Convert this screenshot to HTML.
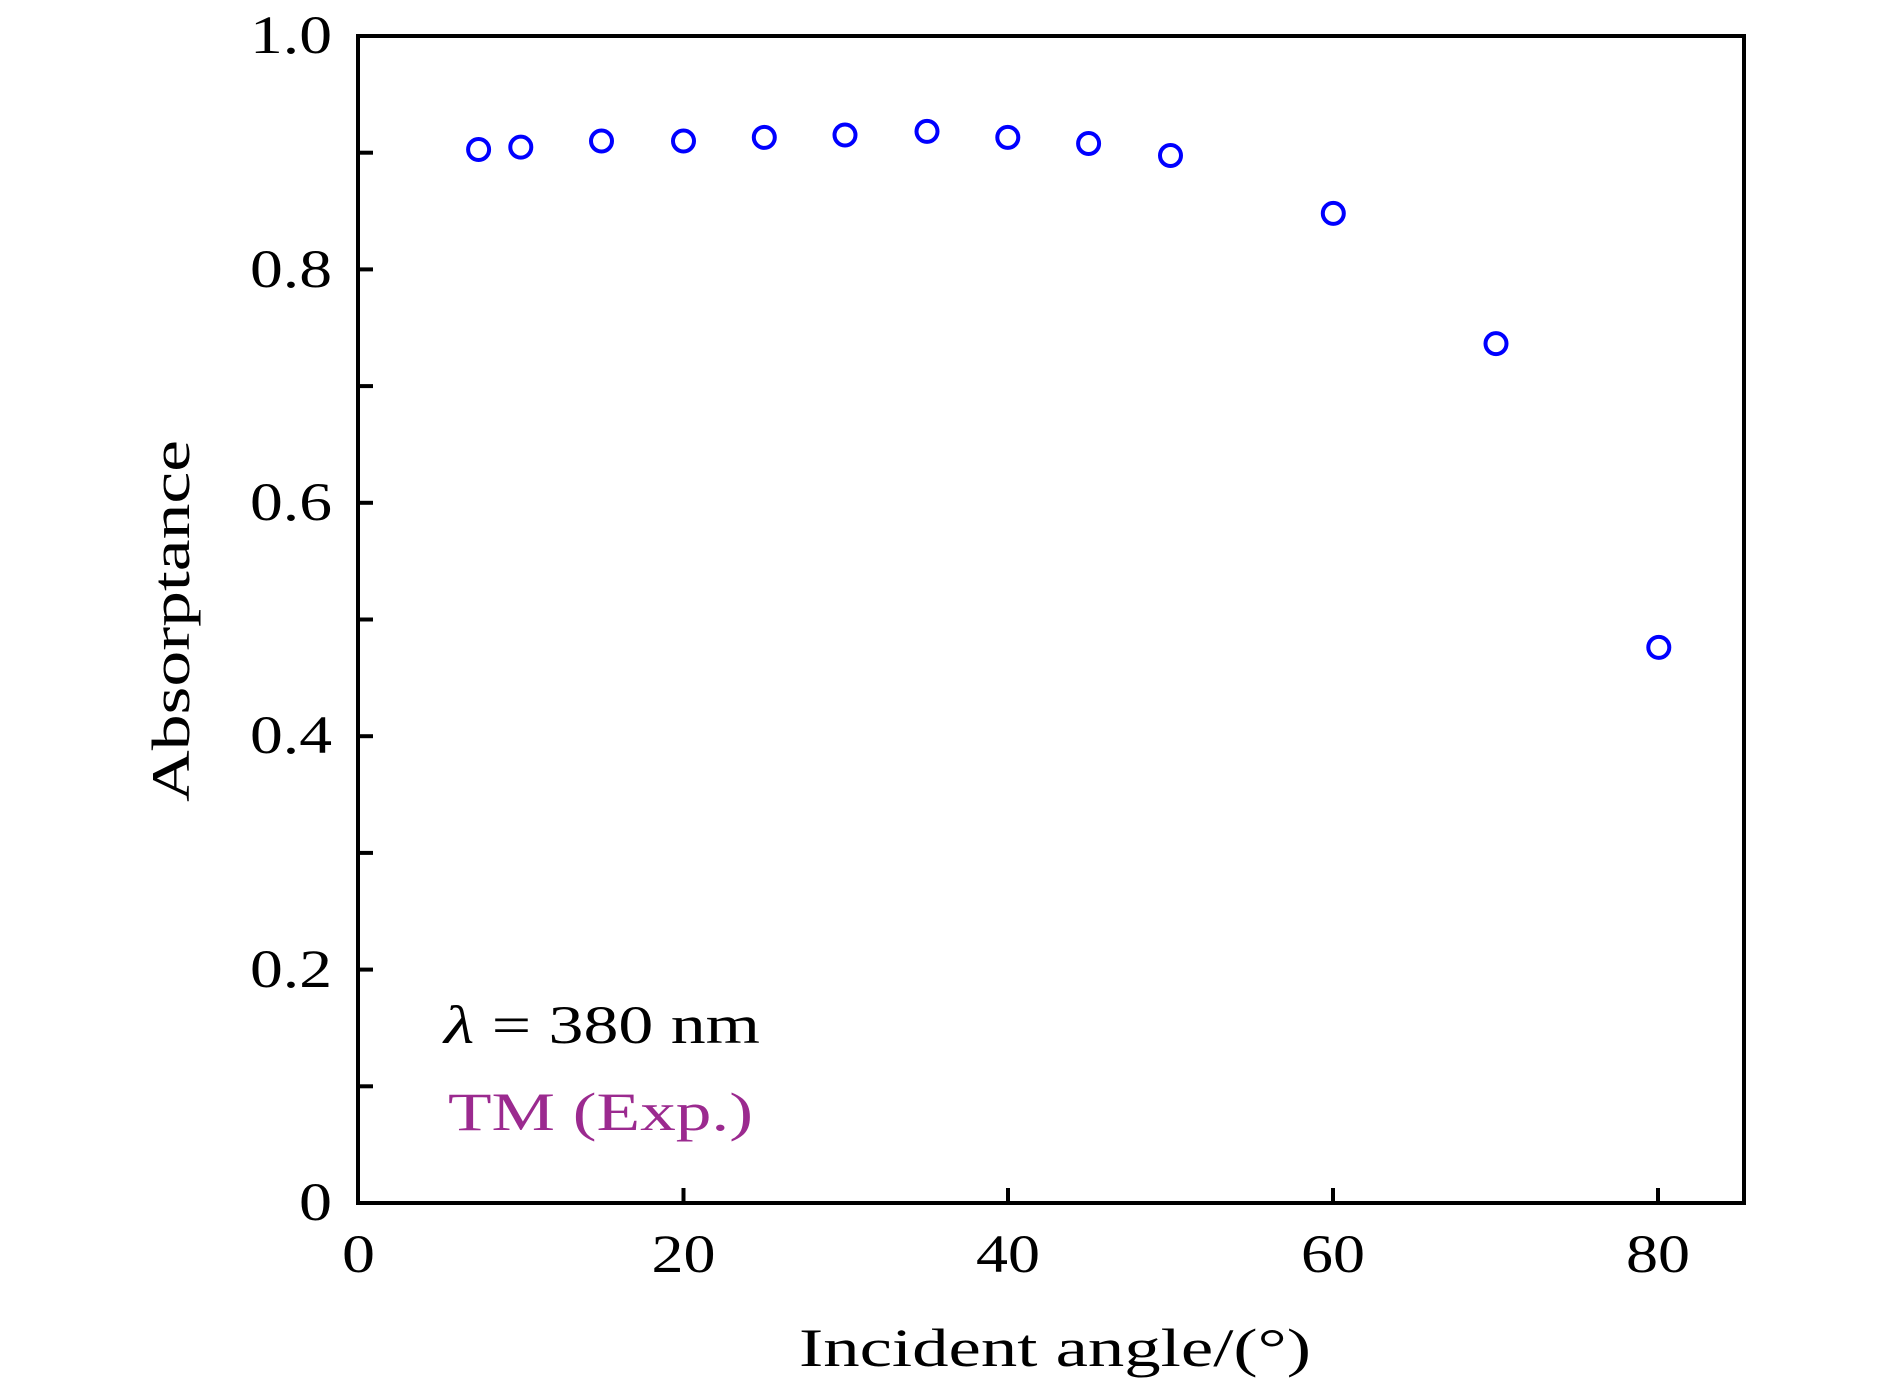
<!DOCTYPE html>
<html><head><style>html,body{margin:0;padding:0;background:#fff}svg{display:block}</style></head><body>
<svg width="1890" height="1394" viewBox="0 0 1890 1394" xmlns="http://www.w3.org/2000/svg" font-family="'Liberation Serif', serif">
<rect width="1890" height="1394" fill="#fff"/>
<g stroke="#000" stroke-width="4">
<rect x="358" y="36" width="1386" height="1167" fill="none"/>
<line x1="358" y1="1086.3" x2="373" y2="1086.3"/>
<line x1="358" y1="969.6" x2="373" y2="969.6"/>
<line x1="358" y1="852.9" x2="373" y2="852.9"/>
<line x1="358" y1="736.2" x2="373" y2="736.2"/>
<line x1="358" y1="619.5" x2="373" y2="619.5"/>
<line x1="358" y1="502.8" x2="373" y2="502.8"/>
<line x1="358" y1="386.1" x2="373" y2="386.1"/>
<line x1="358" y1="269.4" x2="373" y2="269.4"/>
<line x1="358" y1="152.7" x2="373" y2="152.7"/>
<line x1="683.5" y1="1203" x2="683.5" y2="1188"/>
<line x1="1008" y1="1203" x2="1008" y2="1188"/>
<line x1="1333" y1="1203" x2="1333" y2="1188"/>
<line x1="1658" y1="1203" x2="1658" y2="1188"/>
</g>
<g font-size="54" fill="#000">
<text x="299" y="1220" textLength="33" lengthAdjust="spacingAndGlyphs">0</text>
<text x="250" y="987" textLength="82" lengthAdjust="spacingAndGlyphs">0.2</text>
<text x="250" y="753" textLength="82" lengthAdjust="spacingAndGlyphs">0.4</text>
<text x="250" y="520" textLength="82" lengthAdjust="spacingAndGlyphs">0.6</text>
<text x="250" y="287" textLength="82" lengthAdjust="spacingAndGlyphs">0.8</text>
<text x="250" y="53" textLength="82" lengthAdjust="spacingAndGlyphs">1.0</text>
<text x="342" y="1272" textLength="33" lengthAdjust="spacingAndGlyphs">0</text>
<text x="651.5" y="1272" textLength="64" lengthAdjust="spacingAndGlyphs">20</text>
<text x="976" y="1272" textLength="64" lengthAdjust="spacingAndGlyphs">40</text>
<text x="1301" y="1272" textLength="64" lengthAdjust="spacingAndGlyphs">60</text>
<text x="1626" y="1272" textLength="64" lengthAdjust="spacingAndGlyphs">80</text>
<text x="799" y="1366" textLength="512" lengthAdjust="spacingAndGlyphs">Incident angle/(°)</text>
<text transform="translate(189,802) rotate(-90)" textLength="362" lengthAdjust="spacingAndGlyphs">Absorptance</text>
<text x="444" y="1043" textLength="316" lengthAdjust="spacingAndGlyphs"><tspan font-style="italic">λ</tspan> = 380 nm</text>
<text x="448" y="1130" fill="#9b2a8f" textLength="305" lengthAdjust="spacingAndGlyphs">TM (Exp.)</text>
</g>
<g fill="none" stroke="#0000ff" stroke-width="4">
<circle cx="478.6" cy="149.5" r="10.5"/>
<circle cx="520.8" cy="147.1" r="10.5"/>
<circle cx="601.5" cy="141" r="10.5"/>
<circle cx="683.5" cy="141" r="10.5"/>
<circle cx="764.3" cy="137.4" r="10.5"/>
<circle cx="845" cy="135" r="10.5"/>
<circle cx="927" cy="131.4" r="10.5"/>
<circle cx="1007.8" cy="137.4" r="10.5"/>
<circle cx="1088.6" cy="143.5" r="10.5"/>
<circle cx="1170.5" cy="155.5" r="10.5"/>
<circle cx="1333.3" cy="213.4" r="10.5"/>
<circle cx="1496" cy="343.6" r="10.5"/>
<circle cx="1658.8" cy="647.4" r="10.5"/>
</g>
</svg>
</body></html>
